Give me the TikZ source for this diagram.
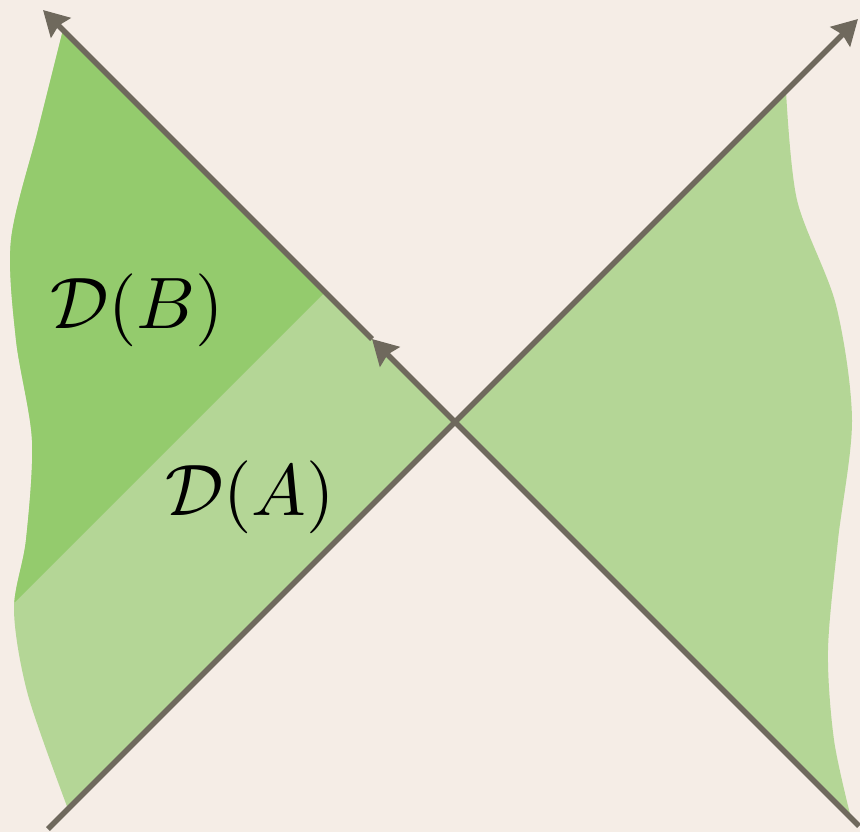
\documentclass[tikz,border=0pt]{standalone}
\usepackage{xcolor}
\usepackage{tikz}
\usetikzlibrary{arrows.meta}
\definecolor{paperbg}{HTML}{F5EDE6}
\definecolor{domlight}{HTML}{B4D696}
\definecolor{domdark}{HTML}{94CB6D}
\definecolor{conegray}{HTML}{6F695D}
\tikzset{
  nullray/.style={draw=conegray, line width=3.1pt, -{Stealth[length=0.5cm, width=0.55cm, inset=0.06cm]}},
  domlabel/.style={inner sep=0pt, scale=4.15},
}

\begin{document}
\begin{tikzpicture}[x=0.02cm, y=-0.02cm]
  \fill[paperbg] (0,0) rectangle (860,832);
  \useasboundingbox (0,0) rectangle (860,832);
  % light cone through the corner point
  \coordinate (O) at (455,422);
  \coordinate (ray1s) at (48,829);
  \coordinate (ray1e) at (858,19);
  \coordinate (ray2s) at (859,826);
  \coordinate (ray2m) at (372,339);
  \coordinate (ray2e) at (43,10);
  % left wedge
  \def\leftedge{plot[smooth] coordinates {(63,30) (38,130) (11,240) (16,340) (32,440)
    (26,540) (14,610) (28,695) (68,809)}}
  \fill[domlight] \leftedge -- (O) -- cycle;
  \begin{scope}
    \clip \leftedge -- (O) -- cycle;
    \fill[domdark] (325,292) -- (0,617) -- (0,-33) -- cycle;
  \end{scope}
  % right wedge
  \fill[domlight] (786,91) -- (O) -- plot[smooth] coordinates {(851,818) (834,740)
    (828,650) (838,540) (852,420) (836,305) (797,200) (786,91)} -- cycle;
  % null rays
  \draw[nullray] (ray1s) -- (ray1e);
  \draw[nullray] (ray2s) -- (ray2m);
  \draw[nullray] (ray2m) -- (ray2e);
  \node[domlabel] (DB) at (137,310) {$\mathcal{D}(B)$};
  \node[domlabel] (DA) at (250,497) {$\mathcal{D}(A)$};
\end{tikzpicture}
\end{document}
